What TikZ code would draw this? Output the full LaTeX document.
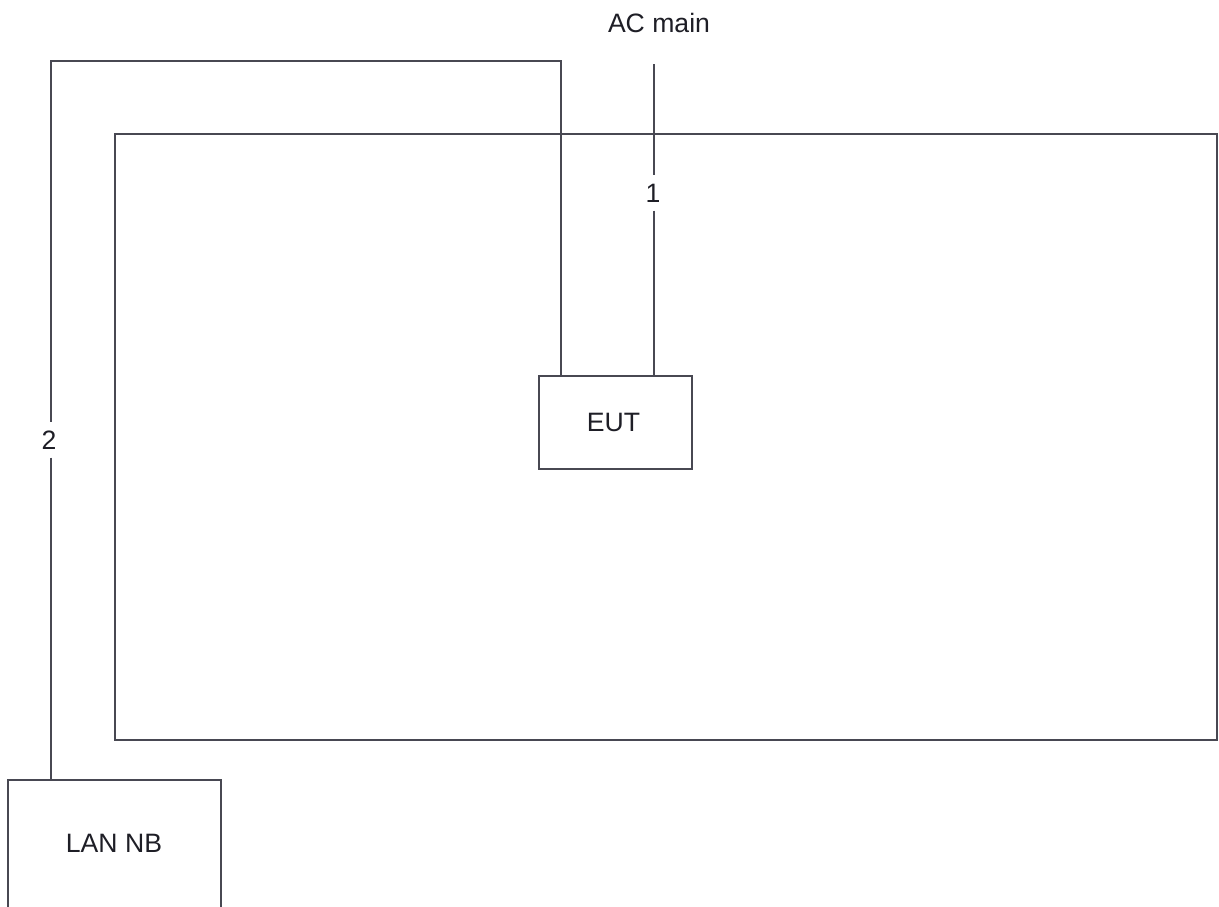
\documentclass[tikz,border=0pt]{standalone}
\usepackage{fontspec}
\setmainfont{Liberation Sans}
\begin{document}
\begin{tikzpicture}[x=1pt,y=-1pt,
  wire/.style={line width=1.6pt,draw={rgb,255:red,72;green,72;blue,82}},
  box/.style={wire,fill=white,inner sep=0pt},
  txt/.style={font=\fontsize{26.6}{30}\selectfont,text={rgb,255:red,30;green,30;blue,38},text height=19pt,text depth=0pt},
  numlbl/.style={txt,fill=white,inner xsep=2pt,inner ysep=8pt}]
\useasboundingbox (0,0) rectangle (1219,906);
\clip (0,0) rectangle (1219,906);
\fill[white] (0,0) rectangle (1219,906);
% room
\node[box,minimum width=1102pt,minimum height=606pt] (room) at (666,437) {};
% EUT
\node[box,minimum width=153pt,minimum height=93pt] (eut) at (615.5,422.5) {};
\node[txt] (eutt) at (613.5,422) {EUT};
% LAN NB
\node[box,minimum width=213pt,minimum height=160pt] (lan) at (114.5,860) {};
\node[txt] (lant) at (114,842.5) {LAN NB};
% AC main
\node[txt] (ac) at (659,22.5) {AC main};
\coordinate (acend) at (654,64);
\node[numlbl] (l1) at (653,193) {1};
\draw[wire] (acend) -- (acend |- l1.north);
\draw[wire] (acend |- l1.south) -- (acend |- eut.north);
% cable 2
\coordinate (t2) at (561,61);
\coordinate (t1) at (51,61);
\node[numlbl] (l2) at (49,440) {2};
\draw[wire] (t2 |- eut.north) -- (t2) -- (t1) -- (t1 |- l2.north);
\draw[wire] (t1 |- l2.south) -- (t1 |- lan.north);
\end{tikzpicture}
\end{document}
